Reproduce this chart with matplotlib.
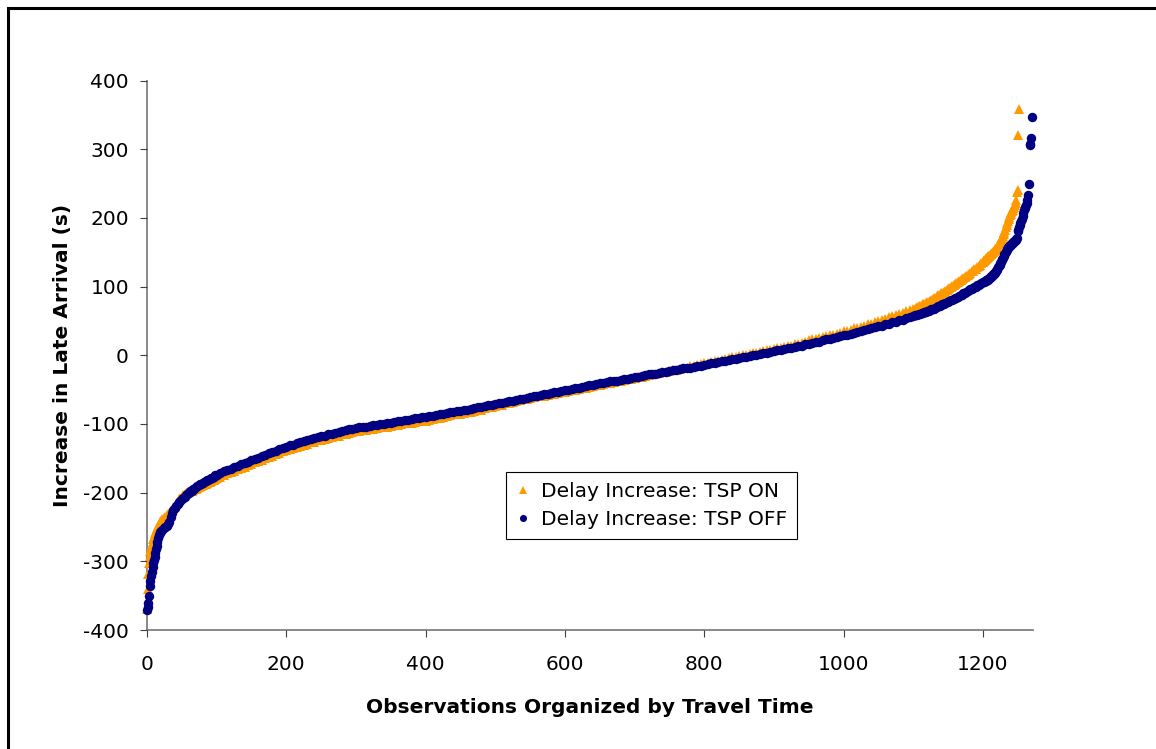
import matplotlib
matplotlib.use("Agg")
import matplotlib.pyplot as plt
from matplotlib.patches import Rectangle

plt.rcParams['font.family'] = ['DejaVu Sans']
plt.rcParams['axes.unicode_minus'] = False

# observation ranks (dense at the tails, sparser in the flat middle)
obs_head = list(range(0, 20))
obs_low = list(range(20, 100, 2))
obs_mid = list(range(100, 1100, 5))
obs_high = list(range(1100, 1200, 2))
obs_on_tail = list(range(1200, 1253))
obs_off_tail = list(range(1200, 1271))

# Delay Increase: TSP ON (s)
on_head = [-369, -340, -318, -302, -292, -285, -280, -276, -272, -268,
           -265, -262, -259, -256, -253, -251, -249, -247, -245, -243]
on_low = [-241, -239, -237, -235, -233, -231, -229, -227, -225, -222,
          -219, -216, -213, -210, -208, -206, -204, -202, -201, -200,
          -199, -198, -197, -196, -195, -194, -193, -192, -191, -190,
          -189, -188, -187, -186, -185, -184, -183, -182, -181, -180]
on_mid = [-179, -177, -174, -172, -170, -168, -166, -164, -162, -160,
          -158, -156, -154, -152, -150, -148, -146, -144, -142, -140,
          -138, -136, -135, -133, -132, -130, -129, -127, -126, -124,
          -123, -122, -120, -119, -118, -117, -115, -114, -113, -112,
          -111, -110, -109, -109, -108, -107, -106, -105, -105, -104,
          -103, -102, -101, -100, -99, -99, -98, -97, -96, -95,
          -95, -94, -93, -92, -91, -90, -89, -87, -86, -85,
          -85, -84, -83, -82, -81, -80, -79, -77, -76, -75,
          -74, -73, -72, -70, -69, -68, -67, -65, -64, -63,
          -62, -61, -60, -60, -59, -58, -57, -56, -55, -54,
          -53, -52, -51, -50, -49, -48, -47, -46, -45, -44,
          -43, -42, -41, -40, -39, -38, -37, -36, -35, -34,
          -33, -32, -31, -30, -29, -28, -27, -26, -25, -24,
          -23, -22, -21, -20, -19, -18, -16, -15, -14, -13,
          -12, -11, -10, -9, -8, -7, -6, -4, -3, -2,
          -1, 0, 1, 2, 3, 4, 5, 6, 7, 8,
          9, 10, 11, 12, 13, 14, 16, 17, 18, 20,
          22, 23, 24, 25, 27, 28, 29, 30, 31, 33,
          35, 36, 37, 39, 40, 41, 43, 45, 46, 48,
          50, 51, 53, 55, 57, 58, 60, 62, 64, 66]
on_high = [67, 68, 69, 70, 71, 72, 73, 74, 75, 76,
           77, 78, 79, 81, 82, 83, 84, 86, 87, 88,
           90, 91, 92, 94, 95, 96, 98, 99, 101, 102,
           104, 105, 107, 108, 110, 111, 113, 114, 116, 117,
           119, 120, 122, 123, 125, 126, 128, 130, 132, 134]
on_tail = [136, 137, 138, 139, 140, 141, 142, 143, 144, 145,
           146, 147, 148, 149, 150, 151, 152, 153, 154, 155,
           156, 158, 160, 162, 164, 166, 168, 170, 172, 174,
           177, 180, 183, 186, 189, 192, 195, 198, 201, 204,
           206, 208, 210, 212, 214, 216, 219, 222, 226, 238,
           240, 321, 358]

# Delay Increase: TSP OFF (s)
off_head = [-371, -366, -360, -350, -336, -328, -321, -315, -309, -303,
            -298, -293, -288, -282, -277, -272, -266, -262, -259, -257]
off_low = [-256, -254, -252, -250, -248, -246, -243, -236, -229, -225,
           -222, -219, -216, -214, -212, -210, -208, -206, -204, -202,
           -200, -198, -197, -195, -194, -192, -191, -189, -188, -187,
           -186, -184, -183, -182, -181, -180, -179, -178, -177, -175]
off_mid = [-174, -172, -169, -167, -165, -163, -161, -159, -157, -155,
           -153, -151, -149, -147, -145, -143, -141, -139, -137, -135,
           -133, -131, -130, -128, -127, -125, -124, -122, -121, -119,
           -118, -117, -115, -114, -113, -112, -110, -109, -108, -107,
           -106, -105, -104, -104, -103, -102, -101, -100, -100, -99,
           -98, -97, -96, -95, -94, -94, -93, -92, -91, -90,
           -90, -89, -88, -87, -86, -85, -84, -83, -82, -81,
           -81, -80, -79, -78, -77, -76, -75, -74, -73, -72,
           -71, -70, -69, -68, -67, -66, -65, -64, -63, -62,
           -61, -60, -59, -58, -57, -56, -55, -54, -53, -52,
           -51, -50, -49, -48, -47, -46, -45, -44, -43, -42,
           -41, -40, -39, -38, -37, -37, -36, -35, -34, -33,
           -32, -31, -30, -29, -28, -28, -27, -26, -25, -24,
           -23, -22, -21, -20, -19, -19, -18, -17, -16, -15,
           -14, -13, -12, -11, -10, -9, -8, -7, -6, -5,
           -4, -3, -2, -1, 0, 1, 2, 3, 4, 5,
           6, 7, 8, 9, 10, 11, 12, 13, 14, 16,
           17, 18, 19, 20, 22, 23, 24, 25, 26, 28,
           29, 30, 31, 33, 34, 35, 37, 38, 39, 41,
           42, 43, 45, 46, 48, 49, 51, 52, 54, 55]
off_high = [57, 58, 58, 59, 60, 60, 61, 62, 63, 63,
            64, 65, 66, 67, 67, 68, 69, 70, 71, 72,
            73, 74, 75, 76, 77, 78, 79, 80, 81, 82,
            83, 84, 85, 86, 87, 88, 90, 91, 92, 93,
            95, 96, 97, 98, 99, 100, 102, 103, 104, 105]
off_tail = [106, 107, 107, 108, 108, 109, 110, 110, 111, 112,
            113, 114, 115, 116, 117, 118, 119, 120, 121, 123,
            124, 126, 128, 130, 132, 134, 136, 138, 140, 142,
            145, 147, 149, 151, 153, 155, 157, 158, 159, 160,
            161, 162, 163, 164, 165, 166, 167, 168, 169, 170,
            181, 183, 186, 189, 192, 195, 199, 203, 207, 211,
            214, 216, 219, 222, 226, 233, 250, 306, 308, 317,
            347]

x_on = obs_head + obs_low + obs_mid + obs_high + obs_on_tail
y_on = on_head + on_low + on_mid + on_high + on_tail
x_off = obs_head + obs_low + obs_mid + obs_high + obs_off_tail
y_off = off_head + off_low + off_mid + off_high + off_tail

fig = plt.figure(figsize=(11.56, 7.49), dpi=100)
ax = fig.add_axes([147 / 1156, 1 - 630 / 749, (1033 - 147) / 1156, (630 - 80.5) / 749])

ax.plot(x_on, y_on, linestyle='none', marker='^', markersize=7.5,
        color='#FF9900', markeredgewidth=0, label='Delay Increase: TSP ON',
        clip_on=False, zorder=3)
ax.plot(x_off, y_off, linestyle='none', marker='o', markersize=6.8,
        color='#000080', markeredgewidth=0, label='Delay Increase: TSP OFF',
        clip_on=False, zorder=4)

ax.set_xlim(0, 1272)
ax.set_ylim(-400, 400)
ax.set_xticks([0, 200, 400, 600, 800, 1000, 1200])
ax.set_yticks([-400, -300, -200, -100, 0, 100, 200, 300, 400])

for side in ['top', 'right']:
    ax.spines[side].set_visible(False)
for side in ['left', 'bottom']:
    ax.spines[side].set_color('#808080')
    ax.spines[side].set_linewidth(1.3)
    ax.spines[side].set_zorder(1)

ax.tick_params(axis='both', direction='out', length=5, width=0.8,
               color='#404040', labelsize=14.5, labelcolor='black')
ax.tick_params(axis='y', pad=8)
ax.tick_params(axis='x', pad=13)

ax.set_xlabel('Observations Organized by Travel Time', fontsize=14.5,
              fontweight='bold', labelpad=17)
ax.set_ylabel('Increase in Late Arrival (s)', fontsize=14.5,
              fontweight='bold', labelpad=8)

leg = ax.legend(loc='upper left', bbox_to_anchor=(0.405, 0.2875),
                borderaxespad=0, fontsize=14.5, markerscale=0.75,
                handlelength=0.7, handletextpad=0.55, borderpad=0.5,
                labelspacing=0.45, fancybox=False, framealpha=1,
                edgecolor='black')
leg.get_frame().set_linewidth(0.8)

# outer chart border (right and bottom sides fall outside the picture)
fig.patches.append(Rectangle((8 / 1156, -0.05), 1.2, 1.05 - 8 / 749,
                             transform=fig.transFigure, fill=False,
                             edgecolor='black', linewidth=2.2))

fig.savefig('out.png', dpi=100)
